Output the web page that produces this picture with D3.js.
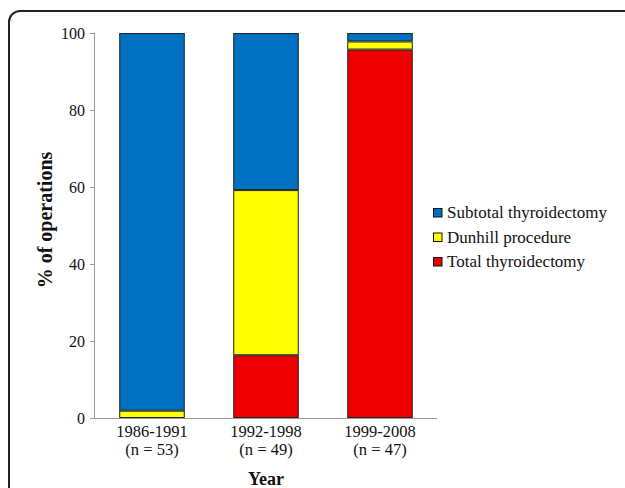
<!DOCTYPE html>
<html>
<head>
<meta charset="utf-8">
<script src="https://cdn.jsdelivr.net/npm/d3@7"></script>
<style>
  html, body { margin: 0; padding: 0; background: #fff; }
  svg { display: block; }
  svg text { font-family: "Liberation Serif", "Times New Roman", serif; }
</style>
</head>
<body>
<svg id="chart" width="625" height="488"></svg>
<script>
// data: percentage of operations per period
const periods = ["1986-1991", "1992-1998", "1999-2008"];
const counts = ["(n = 53)", "(n = 49)", "(n = 47)"];
const seriesNames = ["Total thyroidectomy", "Dunhill procedure", "Subtotal thyroidectomy"];
const totalPct = [0, 16.3, 95.7];
const dunhillPct = [1.9, 42.9, 2.1];
const subtotalPct = [98.1, 40.8, 2.2];
const yTicks = [0, 20, 40, 60, 80, 100];

const COLORS = {
  "Total thyroidectomy": "#ee0000",
  "Dunhill procedure": "#ffff00",
  "Subtotal thyroidectomy": "#0070c0",
};
const FONT = "Liberation Serif, Times New Roman, serif";

const svg = d3.select("#chart").attr("font-family", FONT);
const margin = { top: 33, left: 95 };
const plotRight = 437;
const y0 = 418;

// outer frame (rounded top-left corner, runs off the page)
svg.append("rect")
  .attr("x", 9).attr("y", 11)
  .attr("width", 800).attr("height", 700)
  .attr("rx", 11)
  .attr("fill", "none")
  .attr("stroke", "#222")
  .attr("stroke-width", 2);

const x = d3.scaleBand()
  .domain(periods)
  .range([margin.left, plotRight])
  .paddingInner(0.425)
  .paddingOuter(0.2125);

const y = d3.scaleLinear().domain([0, 100]).range([y0, margin.top]);

// stack rows
const rows = periods.map((p, i) => ({
  period: p,
  "Total thyroidectomy": totalPct[i],
  "Dunhill procedure": dunhillPct[i],
  "Subtotal thyroidectomy": subtotalPct[i],
}));
const stacked = d3.stack().keys(seriesNames)(rows);

// y axis
const yAxis = svg.append("g")
  .attr("transform", `translate(${margin.left},0)`)
  .call(d3.axisLeft(y).tickValues(yTicks).tickSize(5).tickPadding(5));
yAxis.attr("font-family", FONT).attr("font-size", 16);
yAxis.select(".domain").attr("stroke", "#999").attr("d", `M-0.5,${y(100)}V${y(0)}`);
yAxis.selectAll(".tick line").attr("stroke", "#999");
yAxis.selectAll(".tick text")
  .attr("fill", "#111")
  .attr("font-size", 16)
  .attr("font-family", FONT);

// x axis baseline
svg.append("line")
  .attr("x1", margin.left).attr("x2", plotRight)
  .attr("y1", y0 + 0.5).attr("y2", y0 + 0.5)
  .attr("stroke", "#999");

// bars
const layers = svg.append("g").attr("class", "bars");
stacked.forEach((layer) => {
  layers.selectAll(null)
    .data(layer.filter((d) => d[1] - d[0] > 0))
    .join("rect")
    .attr("x", (d) => x(d.data.period) + 0.5)
    .attr("y", (d) => y(d[1]) + 0.5)
    .attr("width", x.bandwidth() - 1)
    .attr("height", (d) => Math.max(0, y(d[0]) - y(d[1]) - 1))
    .attr("fill", COLORS[layer.key])
    .attr("stroke", "#222")
    .attr("stroke-width", 1);
});

// category labels
const cat = svg.append("g")
  .attr("font-family", FONT)
  .attr("font-size", 16.5)
  .attr("fill", "#111")
  .attr("text-anchor", "middle");
periods.forEach((p, i) => {
  const cx = x(p) + x.bandwidth() / 2;
  cat.append("text").attr("x", cx).attr("y", 437).text(p);
  cat.append("text").attr("x", cx).attr("y", 455).text(counts[i]);
});

// axis titles
svg.append("text")
  .attr("x", (margin.left + plotRight) / 2)
  .attr("y", 485)
  .attr("text-anchor", "middle")
  .attr("font-family", FONT)
  .attr("font-size", 18)
  .attr("font-weight", "bold")
  .attr("fill", "#111")
  .text("Year");

svg.append("text")
  .attr("transform", `translate(52,220) rotate(-90)`)
  .attr("text-anchor", "middle")
  .attr("font-family", FONT)
  .attr("font-size", 20)
  .attr("font-weight", "bold")
  .attr("fill", "#111")
  .text("% of operations");

// legend (top to bottom: subtotal, dunhill, total)
const legendItems = seriesNames.slice().reverse();
const legend = svg.append("g").attr("transform", "translate(433,0)");
legendItems.forEach((name, i) => {
  const by = 218 + i * 24.5;
  legend.append("rect")
    .attr("x", 0.5).attr("y", by - 9.5)
    .attr("width", 8.5).attr("height", 8.5)
    .attr("fill", COLORS[name])
    .attr("stroke", "#111");
  legend.append("text")
    .attr("x", 14).attr("y", by)
    .attr("font-family", FONT)
    .attr("font-size", 17)
    .attr("fill", "#111")
    .text(name);
});
</script>
</body>
</html>
